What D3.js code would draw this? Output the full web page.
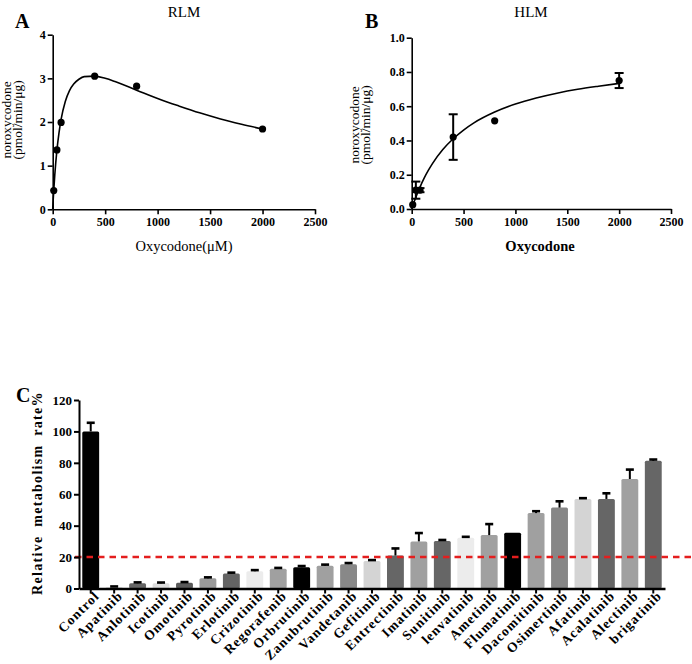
<!DOCTYPE html>
<html>
<head>
<meta charset="utf-8">
<script src="https://cdn.jsdelivr.net/npm/d3@7"></script>
<style>
  body { margin: 0; background: #fff; }
  text { font-family: "Liberation Serif", Tinos, "Times New Roman", Times, "DejaVu Serif", serif; fill: #000; }
  .axis path, .axis line { stroke: #000; }
  .axis text { font-weight: bold; }
</style>
</head>
<body>
<svg id="fig" width="692" height="664"></svg>
<script>
// ---- panel A: RLM ----
var rlmConc = [10, 40, 80, 400, 800, 2000];
var rlmRate = [0.43, 1.36, 1.99, 3.05, 2.82, 1.84];
// fitted curve
var rlmCurveX = [0, 5, 10, 20, 40, 60, 80, 120, 160, 200, 250, 300, 400, 500, 600, 800, 1000, 1200, 1400, 1600, 1800, 2000];
var rlmCurveY = [0, 0.23, 0.43, 0.79, 1.35, 1.75, 2.06, 2.47, 2.72, 2.87, 2.98, 3.04, 3.05, 3.0, 2.92, 2.73, 2.54, 2.37, 2.21, 2.07, 1.95, 1.84];

// ---- panel B: HLM ----
var hlmConc = [10, 40, 80, 400, 800, 2000];
var hlmRate = [0.025, 0.11, 0.11, 0.42, 0.515, 0.75];
var hlmErr = [0, 0.05, 0.012, 0.133, 0, 0.044];
var hlmCurveX = [0, 20, 40, 80, 120, 160, 200, 300, 400, 500, 600, 800, 1000, 1200, 1400, 1600, 1800, 2000];
var hlmCurveY = [0, 0.036, 0.069, 0.128, 0.18, 0.225, 0.265, 0.347, 0.41, 0.461, 0.503, 0.566, 0.613, 0.648, 0.676, 0.699, 0.717, 0.733];

// ---- panel C ----
var drugs = ["Control", "Apatinib", "Anlotinib", "Icotinib", "Omotinib", "Pyrotinib", "Erlotinib", "Crizotinib",
  "Regorafenib", "Orbrutinib", "Zanubrutinib", "Vandetanib", "Gefitinib", "Entrectinib", "Imatinib", "Sunitinib",
  "lenvatinib", "Ametinib", "Flumatinib", "Dacomitinib", "Osimertinib", "Afatinib", "Acalatinib", "Alectinib", "brigatinib"];
var rates = [100, 1, 3.3, 3.3, 3.6, 6.5, 9.5, 11, 12.5, 13.5, 14.5, 15.5, 17.5, 21, 30, 30.3, 32.3, 34, 35.5, 48, 51.5, 57, 57, 69.7, 81.3];
var errs = [5.5, 0.3, 0.6, 0.5, 0.5, 0.6, 0.6, 0.7, 0.6, 0.8, 0.7, 0.7, 0.6, 4.5, 5.3, 0.6, 0.6, 7, 0, 1.2, 4, 0.5, 3.6, 6, 0.8];
var fills = ["#000", "#e2e2e2", "#666", "#dcdcdc", "#5a5a5a", "#9a9a9a", "#646464", "#ececec",
  "#a0a0a0", "#000", "#a0a0a0", "#888", "#d4d4d4", "#666", "#a0a0a0", "#666",
  "#ececec", "#a0a0a0", "#000", "#a0a0a0", "#868686", "#d4d4d4", "#666", "#a0a0a0", "#666"];
var cutoff = 20;

var svg = d3.select("#fig");

function curvePanel(opt) {
	var x = d3.scaleLinear().domain([0, 2500]).range(opt.xr);
	var y = d3.scaleLinear().domain(opt.yd).range(opt.yr);

	svg.append("g")
		.attr("class", "axis")
		.attr("transform", `translate(0,${opt.yr[0]})`)
		.call(d3.axisBottom(x).tickValues([0, 500, 1000, 1500, 2000, 2500]).tickFormat(d3.format("d"))
			.tickSize(5).tickSizeOuter(0).tickPadding(3))
		.call(g => g.selectAll("path, line").attr("stroke-width", 1.6))
		.selectAll("text").style("font-size", "12px");

	svg.append("g")
		.attr("class", "axis")
		.attr("transform", `translate(${opt.xr[0]},0)`)
		.call(d3.axisLeft(y).tickValues(opt.ticks).tickFormat(opt.fmt).tickSize(5).tickSizeOuter(0).tickPadding(2))
		.call(g => g.selectAll("path, line").attr("stroke-width", 1.6))
		.selectAll("text").style("font-size", "12px");

	var pts = opt.cx.map((c, i) => [c, opt.cy[i]]);
	svg.append("path")
		.datum(pts)
		.attr("fill", "none")
		.attr("stroke", "#000")
		.attr("stroke-width", 1.6)
		.attr("d", d3.line().x(d => x(d[0])).y(d => y(d[1])).curve(d3.curveMonotoneX));

	if (opt.err) {
		opt.conc.forEach(function(c, i) {
			var e = opt.err[i];
			if (!e) return;
			var g = svg.append("g").attr("stroke", "#000").attr("stroke-width", 2);
			g.append("line").attr("x1", x(c)).attr("x2", x(c)).attr("y1", y(opt.rate[i] - e)).attr("y2", y(opt.rate[i] + e));
			[-1, 1].forEach(s => g.append("line")
				.attr("x1", x(c) - 4.5).attr("x2", x(c) + 4.5)
				.attr("y1", y(opt.rate[i] + s * e)).attr("y2", y(opt.rate[i] + s * e)));
		});
	}

	svg.append("g").selectAll("circle")
		.data(opt.conc)
		.enter().append("circle")
		.attr("cx", d => x(d))
		.attr("cy", (d, i) => y(opt.rate[i]))
		.attr("r", 3.6)
		.attr("fill", "#000");

	svg.append("text")
		.attr("x", opt.titleX).attr("y", 17)
		.attr("text-anchor", "middle")
		.style("font-size", "15px")
		.text(opt.title);

	svg.append("text")
		.attr("x", opt.letterX).attr("y", 28)
		.style("font-size", "20px").style("font-weight", "bold")
		.text(opt.letter);

	svg.append("text")
		.attr("x", opt.xlabX).attr("y", 251)
		.attr("text-anchor", "middle")
		.style("font-size", "14.5px")
		.style("font-weight", opt.xlabBold ? "bold" : "normal")
		.text(opt.xlab);

	var yl = svg.append("text")
		.attr("transform", `translate(${opt.ylabX},${opt.ylabY}) rotate(-90)`)
		.attr("text-anchor", "middle")
		.style("font-size", "13.5px");
	yl.append("tspan").attr("x", 0).attr("y", 0).text("noroxycodone");
	yl.append("tspan").attr("x", 0).attr("y", 11).text("(pmol/min/\u03bcg)");
}

curvePanel({
	xr: [52.7, 315], yr: [209.3, 34.7], yd: [0, 4], ticks: [0, 1, 2, 3, 4], fmt: d3.format("d"),
	conc: rlmConc, rate: rlmRate, cx: rlmCurveX, cy: rlmCurveY,
	title: "RLM", titleX: 184, letter: "A", letterX: 15,
	xlab: "Oxycodone(\u03bcM)", xlabX: 184, xlabBold: false,
	ylabX: 11, ylabY: 120
});

curvePanel({
	xr: [411.7, 671], yr: [209, 37.7], yd: [0, 1], ticks: [0, 0.2, 0.4, 0.6, 0.8, 1.0], fmt: d3.format(".1f"),
	conc: hlmConc, rate: hlmRate, err: hlmErr, cx: hlmCurveX, cy: hlmCurveY,
	title: "HLM", titleX: 531, letter: "B", letterX: 365,
	xlab: "Oxycodone", xlabX: 540, xlabBold: true,
	ylabX: 359, ylabY: 125
});

// ---- panel C: bar chart ----
var cx = d3.scaleBand().domain(drugs).range([79, 665]).paddingInner(0.28).paddingOuter(0.14);
var cy = d3.scaleLinear().domain([0, 120]).range([588.5, 400]);

svg.append("g").selectAll("rect")
	.data(drugs)
	.enter().append("rect")
	.attr("x", d => cx(d))
	.attr("y", (d, i) => cy(rates[i]))
	.attr("width", cx.bandwidth())
	.attr("height", (d, i) => cy(0) - cy(rates[i]))
	.attr("rx", 1.5)
	.attr("fill", (d, i) => fills[i]);

var eb = svg.append("g").attr("stroke", "#000");
drugs.forEach(function(d, i) {
	if (!errs[i]) return;
	var mx = cx(d) + cx.bandwidth() / 2;
	eb.append("line").attr("x1", mx).attr("x2", mx)
		.attr("y1", cy(rates[i])).attr("y2", cy(rates[i] + errs[i]))
		.attr("stroke-width", 2);
	eb.append("line").attr("x1", mx - 4).attr("x2", mx + 4)
		.attr("y1", cy(rates[i] + errs[i])).attr("y2", cy(rates[i] + errs[i]))
		.attr("stroke-width", 2.6);
});

svg.append("line")
	.attr("x1", 75).attr("x2", 692)
	.attr("y1", cy(cutoff)).attr("y2", cy(cutoff))
	.attr("stroke", "#e41e1e")
	.attr("stroke-width", 2.5)
	.attr("stroke-dasharray", "6.5,5");

svg.append("g")
	.attr("class", "axis")
	.attr("transform", "translate(0,588.5)")
	.call(d3.axisBottom(cx).tickSize(5).tickSizeOuter(0).tickPadding(3))
	.call(g => g.select("path").attr("stroke-width", 2.5))
	.call(g => g.selectAll("line").attr("stroke-width", 2))
	.selectAll("text")
	.style("font-size", "13.5px")
	.style("letter-spacing", "1px")
	.attr("text-anchor", "end")
	.attr("transform", "translate(6,5) rotate(-45)")
	.attr("x", 0).attr("y", 0).attr("dy", "0.35em");

svg.append("g")
	.attr("class", "axis")
	.attr("transform", "translate(79,0)")
	.call(d3.axisLeft(cy).tickValues(d3.range(0, 121, 20)).tickSize(5).tickSizeOuter(0).tickPadding(2))
	.call(g => g.selectAll("path, line").attr("stroke-width", 2))
	.selectAll("text").style("font-size", "13px");

svg.append("text")
	.attr("transform", "translate(42,493) rotate(-90)")
	.attr("text-anchor", "middle")
	.style("font-size", "14px").style("font-weight", "bold")
	.style("letter-spacing", "1.3px").style("word-spacing", "4px")
	.text("Relative metabolism rate%");

svg.append("text")
	.attr("x", 16).attr("y", 402)
	.style("font-size", "20px").style("font-weight", "bold")
	.text("C");
</script>
</body>
</html>
